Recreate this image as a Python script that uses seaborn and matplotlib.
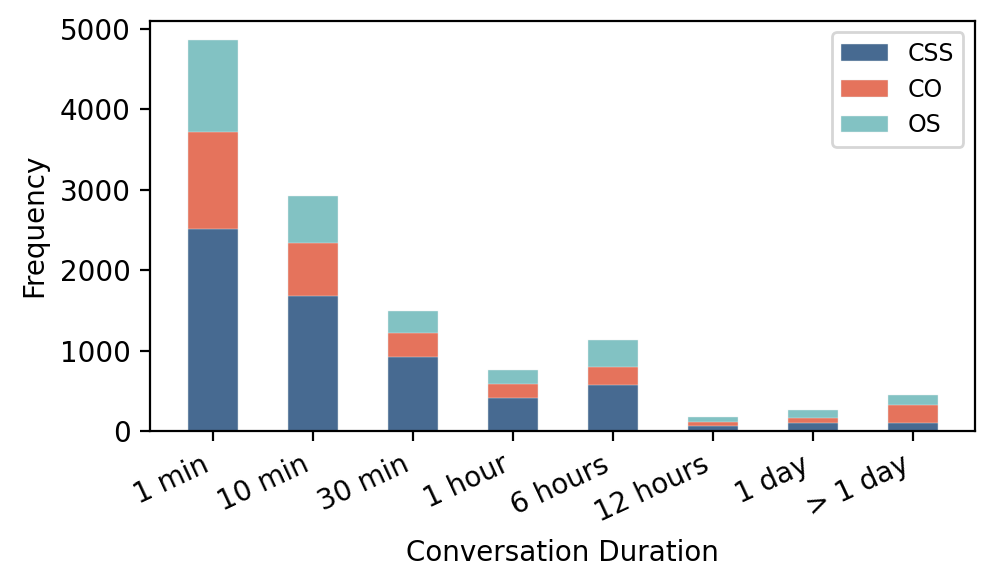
import numpy as np
import pandas as pd
import matplotlib
matplotlib.use("Agg")
import matplotlib.pyplot as plt
import seaborn as sns

durations = ["1 min", "10 min", "30 min", "1 hour", "6 hours", "12 hours", "1 day", "> 1 day"]
css = [2510, 1680, 915, 410, 570, 60, 105, 105]
co = [1205, 660, 300, 175, 225, 50, 55, 220]
os_ = [1145, 575, 280, 175, 330, 65, 95, 120]

colors = {"CSS": "#476a91", "CO": "#e5735c", "OS": "#82c2c3"}

df = pd.DataFrame({"duration": durations, "CSS": css, "CO": co, "OS": os_})
# cumulative tops so the layers can be drawn on top of each other
df["top_CSS"] = df["CSS"]
df["top_CO"] = df["CSS"] + df["CO"]
df["top_OS"] = df["CSS"] + df["CO"] + df["OS"]

plt.rcParams.update({'font.size': 10})
fig, ax = plt.subplots(figsize=(4.975, 2.94), dpi=200)

for key in ["OS", "CO", "CSS"]:
    sns.barplot(data=df, x="duration", y="top_" + key, color=colors[key],
                width=0.5, saturation=1, edgecolor="#e8f0f0", linewidth=0.15,
                ax=ax, label=key)

ax.set_ylim(0, 5100)
ax.set_xlim(-0.63, 7.62)
ax.set_xlabel("Conversation Duration")
ax.set_ylabel("Frequency")
plt.setp(ax.get_xticklabels(), rotation=25, ha="right")

h, l = ax.get_legend_handles_labels()
order = [l.index("CSS"), l.index("CO"), l.index("OS")]
ax.legend([h[i] for i in order], [l[i] for i in order], loc="upper right", fontsize=8.5)

fig.subplots_adjust(left=0.151, right=0.98, top=0.965, bottom=0.267)
fig.savefig("out.png", dpi=200)
